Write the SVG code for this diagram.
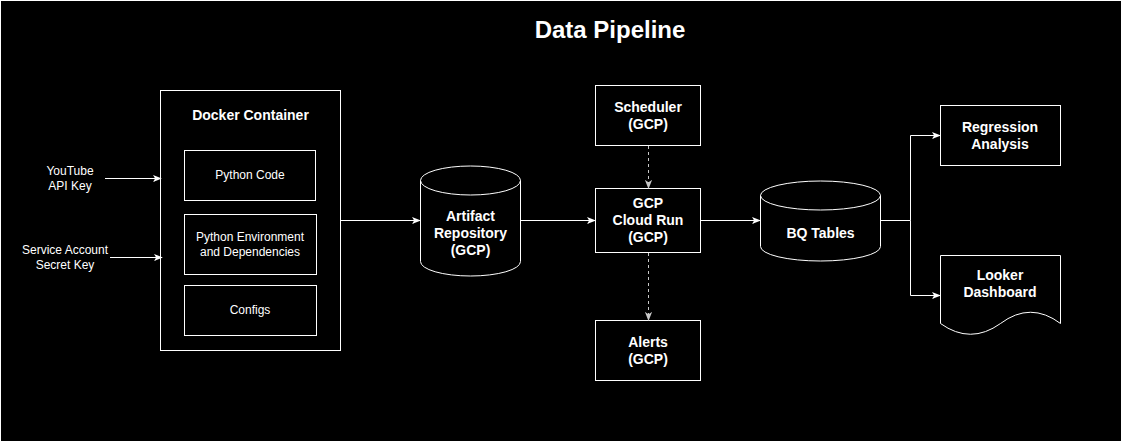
<svg xmlns="http://www.w3.org/2000/svg" width="1121" height="441" viewBox="0 0 1121 441">
<style>
.b{fill:#000;stroke:#fff;stroke-width:1}
.t{fill:#fff;font-family:"Liberation Sans",Arial,sans-serif;font-size:14px;font-weight:bold;text-anchor:middle}
.s{fill:#fff;font-family:"Liberation Sans",Arial,sans-serif;font-size:12px;text-anchor:middle}
.c{fill:none;stroke:#fff;stroke-width:1}
.d{fill:none;stroke:#c8c8c8;stroke-width:1;stroke-dasharray:3 3}
</style>
<defs>
<marker id="a" viewBox="0 0 10 10" refX="9" refY="5" markerWidth="9" markerHeight="9" markerUnits="userSpaceOnUse" orient="auto">
<path d="M0,1 L10,5 L0,9 L2.5,5 Z" fill="#fff"/>
</marker>
<marker id="ag" viewBox="0 0 10 10" refX="9" refY="5" markerWidth="9" markerHeight="9" markerUnits="userSpaceOnUse" orient="auto">
<path d="M0,1 L10,5 L0,9 L2.5,5 Z" fill="#c8c8c8"/>
</marker>
</defs>
<rect x="0" y="0" width="1121" height="441" fill="#fff"/>
<rect x="1" y="1" width="1120" height="440" fill="#000"/>
<text x="610" y="38" class="t" style="font-size:24px">Data Pipeline</text>

<g id="youtube-key">
<text x="70" y="175" class="s">YouTube</text>
<text x="70" y="190" class="s">API Key</text>
</g>
<g id="service-account">
<text x="65" y="254" class="s">Service Account</text>
<text x="65" y="269" class="s">Secret Key</text>
</g>

<g id="docker">
<rect x="160.5" y="90.5" width="180" height="260" class="b"/>
<text x="250.5" y="120" class="t">Docker Container</text>
</g>
<g id="python-code">
<rect x="184.5" y="150.5" width="131" height="50" class="b"/>
<text x="250" y="179" class="s">Python Code</text>
</g>
<g id="python-env">
<rect x="184.5" y="214.5" width="132" height="60" class="b"/>
<text x="250" y="241" class="s">Python Environment</text>
<text x="250" y="256" class="s">and Dependencies</text>
</g>
<g id="configs">
<rect x="184.5" y="285.5" width="132" height="50" class="b"/>
<text x="250" y="314" class="s">Configs</text>
</g>

<g id="artifact">
<path d="M420.5,180.5 A50,14.5 0 0 1 520.5,180.5 V261.5 A50,14.5 0 0 1 420.5,261.5 Z" class="b"/>
<path d="M420.5,180.5 A50,14.5 0 0 0 520.5,180.5" class="c"/>
<text x="470.5" y="221" class="t">Artifact</text>
<text x="470.5" y="238" class="t">Repository</text>
<text x="470.5" y="255" class="t">(GCP)</text>
</g>

<g id="scheduler">
<rect x="595.5" y="85.5" width="105" height="60" class="b"/>
<text x="648" y="112" class="t">Scheduler</text>
<text x="648" y="129" class="t">(GCP)</text>
</g>
<g id="cloudrun">
<rect x="595.5" y="188.5" width="105" height="64" class="b"/>
<text x="648" y="208" class="t">GCP</text>
<text x="648" y="225" class="t">Cloud Run</text>
<text x="648" y="242" class="t">(GCP)</text>
</g>
<g id="alerts">
<rect x="595.5" y="320.5" width="105" height="60" class="b"/>
<text x="648" y="347" class="t">Alerts</text>
<text x="648" y="364" class="t">(GCP)</text>
</g>

<g id="bq">
<path d="M760.5,195.5 A60,14.5 0 0 1 880.5,195.5 V246.5 A60,14.5 0 0 1 760.5,246.5 Z" class="b"/>
<path d="M760.5,195.5 A60,14.5 0 0 0 880.5,195.5" class="c"/>
<text x="820.5" y="238" class="t">BQ Tables</text>
</g>

<g id="regression">
<rect x="940.5" y="105.5" width="120" height="60" class="b"/>
<text x="1000" y="132" class="t">Regression</text>
<text x="1000" y="149" class="t">Analysis</text>
</g>
<g id="looker">
<path d="M940.5,255.5 H1060.5 V323.5 Q1030.5,301 1000.5,323.5 Q970.5,345 940.5,323.5 Z" class="b"/>
<text x="1000" y="280" class="t">Looker</text>
<text x="1000" y="297" class="t">Dashboard</text>
</g>

<g id="connectors">
<path d="M105,178.5 H161" class="c" marker-end="url(#a)"/>
<path d="M110,257.5 H162" class="c" marker-end="url(#a)"/>
<path d="M340.5,220.5 H420" class="c" marker-end="url(#a)"/>
<path d="M520.5,220.5 H595" class="c" marker-end="url(#a)"/>
<path d="M648.5,146 V188" class="d" marker-end="url(#ag)"/>
<path d="M648.5,253 V320" class="d" marker-end="url(#ag)"/>
<path d="M700.5,220.5 H760" class="c" marker-end="url(#a)"/>
<path d="M880.5,220.5 H910.5 V135.5 H940" class="c" marker-end="url(#a)"/>
<path d="M910.5,220.5 V295.5 H940" class="c" marker-end="url(#a)"/>
</g>
</svg>
